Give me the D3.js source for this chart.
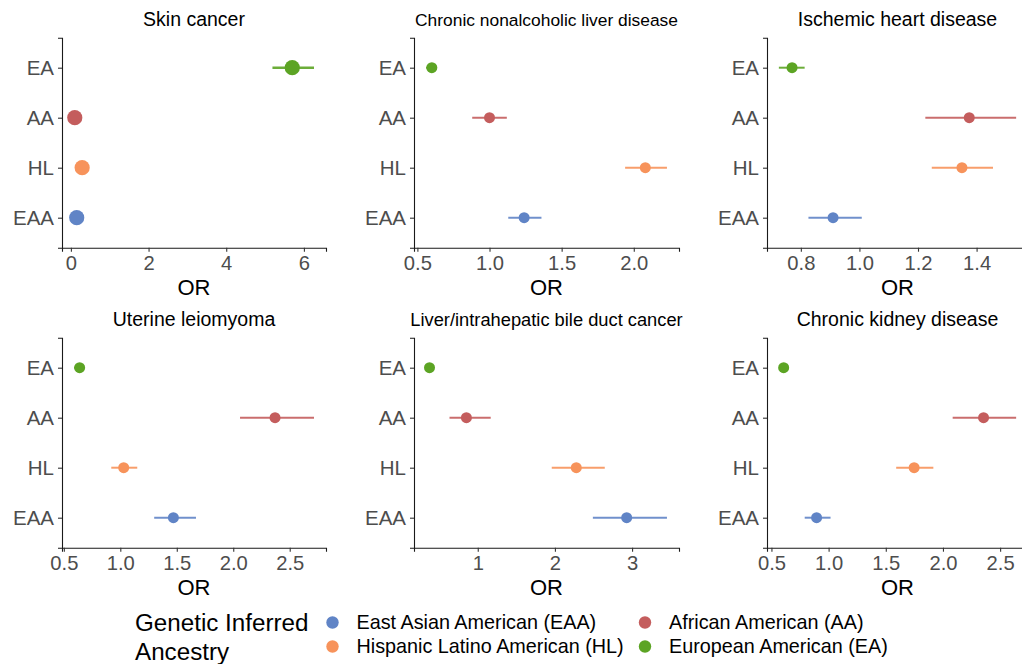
<!DOCTYPE html>
<html>
<head>
<meta charset="utf-8">
<script src="https://cdn.jsdelivr.net/npm/d3@7"></script>
<style>
  body { margin: 0; background: #fff; }
  svg { display: block; font-family: "Liberation Sans", Arial, sans-serif; }
</style>
</head>
<body>
<svg id="chart" width="1022" height="664"></svg>
<script>
// rows of each panel, top to bottom
const ancestries = ["EA", "AA", "HL", "EAA"];
const diseases = [
  "Skin cancer",
  "Chronic nonalcoholic liver disease",
  "Ischemic heart disease",
  "Uterine leiomyoma",
  "Liver/intrahepatic bile duct cancer",
  "Chronic kidney disease"
];

// odds ratios per disease, in the order of ancestries
const orEstimate = [
  [5.70, 0.10, 0.29, 0.15],
  [0.60, 1.00, 2.08, 1.24],
  [0.77, 1.375, 1.35, 0.91],
  [0.64, 2.37, 1.03, 1.47],
  [0.375, 0.853, 2.277, 2.93],
  [0.607, 2.355, 1.748, 0.895]
];
const orLower = [
  [5.19, 0.08, 0.25, 0.11],
  [0.56, 0.88, 1.94, 1.13],
  [0.725, 1.225, 1.247, 0.826],
  [0.59, 2.06, 0.92, 1.30],
  [0.33, 0.634, 1.959, 2.492],
  [0.565, 2.085, 1.591, 0.791]
];
const orUpper = [
  [6.26, 0.13, 0.34, 0.19],
  [0.63, 1.12, 2.23, 1.36],
  [0.813, 1.535, 1.456, 1.008],
  [0.68, 2.715, 1.15, 1.67],
  [0.42, 1.168, 2.646, 3.452],
  [0.64, 2.64, 1.916, 1.017]
];

const xTicks = [
  [0, 2, 4, 6],
  [0.5, 1.0, 1.5, 2.0],
  [0.8, 1.0, 1.2, 1.4],
  [0.5, 1.0, 1.5, 2.0, 2.5],
  [1, 2, 3],
  [0.5, 1.0, 1.5, 2.0, 2.5]
];

const legendKeys = ["EAA", "AA", "HL", "EA"];
const legendLabels = [
  "East Asian American (EAA)",
  "African American (AA)",
  "Hispanic Latino American (HL)",
  "European American (EA)"
];

const colors = { EAA: "#6084C6", HL: "#F7935B", AA: "#C45D5D", EA: "#5CA424" };

const svg = d3.select("#chart");
svg.append("rect").attr("width", 1022).attr("height", 664).attr("fill", "#fff");

// plot panel boxes
const cols = [[62, 326], [414, 679], [767, 1028]];
const rows = [[37.7, 247.7], [337.7, 547.7]];
const titleSize = { "Chronic nonalcoholic liver disease": 17.4, "Liver/intrahepatic bile duct cancer": 18.3 };

diseases.forEach((name, i) => {
  const [x0, x1] = cols[i % 3];
  const [y0, y1] = rows[Math.floor(i / 3)];
  const lo = d3.min(orLower[i]);
  const hi = d3.max(orUpper[i]);
  const pad = (hi - lo) * 0.05;

  const x = d3.scaleLinear().domain([lo - pad, hi + pad]).range([x0, x1]);
  const y = d3.scalePoint().domain(ancestries).range([y0, y1]).padding(0.6);

  const g = svg.append("g");
  const big = i === 0;

  const rowsData = ancestries.map((a, j) => ({
    a, or: orEstimate[i][j], lo: orLower[i][j], hi: orUpper[i][j]
  }));

  const allInt = xTicks[i].every(t => Number.isInteger(t));
  const xAxis = d3.axisBottom(x)
    .tickValues(xTicks[i])
    .tickFormat(d3.format(allInt ? "d" : ".1f"))
    .tickSizeOuter(0)
    .tickSize(4)
    .tickPadding(4);
  const xg = g.append("g").attr("transform", `translate(0,${y1})`).call(xAxis);
  xg.select(".domain").attr("stroke", "#1a1a1a").attr("stroke-width", 1.1);
  xg.selectAll(".tick line").attr("stroke", "#333").attr("stroke-width", 1.1);
  xg.selectAll(".tick text")
    .attr("fill", "#4d4d4d")
    .attr("font-size", 20.2)
    .attr("font-family", "Liberation Sans, Arial, sans-serif");

  const yAxis = d3.axisLeft(y).tickSizeOuter(0).tickSize(4).tickPadding(4);
  const yg = g.append("g").attr("transform", `translate(${x0},0)`).call(yAxis);
  yg.select(".domain").attr("stroke", "#1a1a1a").attr("stroke-width", 1.1);
  yg.selectAll(".tick line").attr("stroke", "#333").attr("stroke-width", 1.1);
  yg.selectAll(".tick text")
    .attr("fill", "#4d4d4d")
    .attr("font-size", 20.5)
    .attr("font-family", "Liberation Sans, Arial, sans-serif");

  g.selectAll("line.err")
    .data(rowsData)
    .enter()
    .append("line")
    .attr("class", "err")
    .attr("x1", d => x(d.lo))
    .attr("x2", d => x(d.hi))
    .attr("y1", d => y(d.a))
    .attr("y2", d => y(d.a))
    .attr("stroke", d => colors[d.a])
    .attr("stroke-opacity", 0.9)
    .attr("stroke-width", big ? 2.6 : 2);

  g.selectAll("circle")
    .data(rowsData)
    .enter()
    .append("circle")
    .attr("cx", d => x(d.or))
    .attr("cy", d => y(d.a))
    .attr("r", big ? 7.6 : 5.5)
    .attr("fill", d => colors[d.a]);

  g.append("text")
    .attr("x", (x0 + x1) / 2)
    .attr("y", y0 - 11.5)
    .attr("text-anchor", "middle")
    .attr("font-size", titleSize[name] || 19.5)
    .attr("fill", "#000")
    .text(name);

  g.append("text")
    .attr("x", (x0 + x1) / 2)
    .attr("y", y1 + 47.5)
    .attr("text-anchor", "middle")
    .attr("font-size", 22)
    .attr("fill", "#000")
    .text("OR");
});

// legend
const legend = svg.append("g");
legend.append("text")
  .attr("x", 135)
  .attr("y", 631)
  .attr("font-size", 24.2)
  .attr("fill", "#000")
  .selectAll("tspan")
  .data(["Genetic Inferred", "Ancestry"])
  .enter()
  .append("tspan")
  .attr("x", 135)
  .attr("dy", (d, k) => k === 0 ? 0 : 28.5)
  .text(d => d);

const keyX = [332.5, 645];
const keyY = [622.5, 646.5];
legendKeys.forEach((k, i) => {
  const cx = keyX[i % 2];
  const cy = keyY[Math.floor(i / 2)];
  legend.append("circle")
    .attr("cx", cx)
    .attr("cy", cy)
    .attr("r", 6.2)
    .attr("fill", colors[k]);
  legend.append("text")
    .attr("x", cx + 24)
    .attr("y", cy)
    .attr("dy", "0.35em")
    .attr("font-size", 19.8)
    .attr("fill", "#000")
    .text(legendLabels[i]);
});
</script>
</body>
</html>
